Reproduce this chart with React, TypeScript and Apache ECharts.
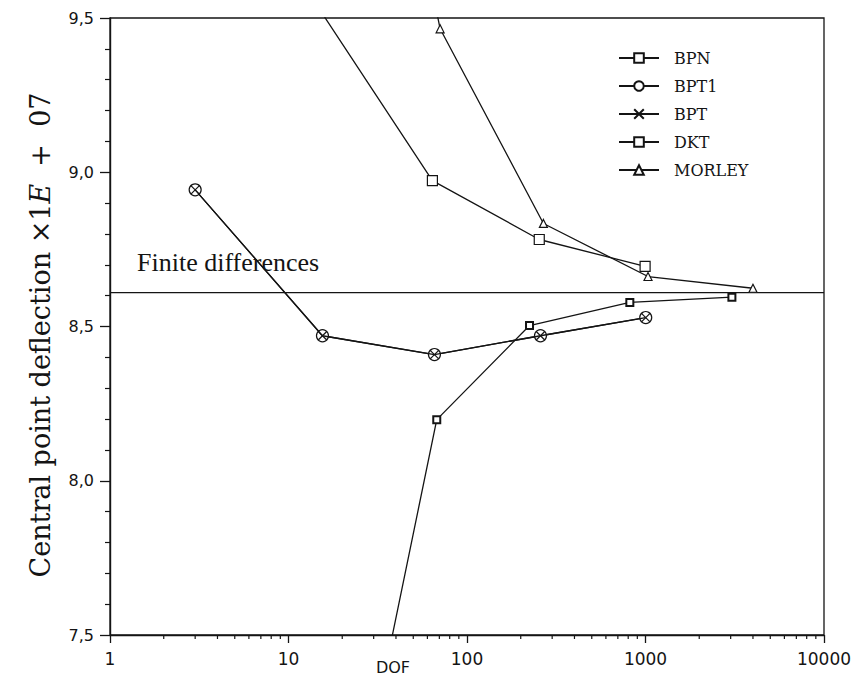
import React, { useEffect, useRef } from "react";
import * as echarts from "echarts";

// ---- data ----
const legendNames = ["BPN", "BPT1", "BPT", "DKT", "MORLEY"];

const dofBPN = [4, 64, 254, 995];
const valBPN = [10.03, 8.973, 8.782, 8.695];

const dofBPT1 = [3, 15.5, 65.7, 258, 1003];
const valBPT1 = [8.943, 8.47, 8.409, 8.47, 8.529];

const dofBPT = [3, 15.5, 65.7, 258, 1003];
const valBPT = [8.943, 8.47, 8.409, 8.47, 8.529];

const dofDKT = [20, 67.7, 224, 817, 3048];
const valDKT = [6.71, 8.198, 8.503, 8.578, 8.595];

const dofMORLEY = [16, 70.7, 268, 1033, 4000];
const valMORLEY = [11.3, 9.465, 8.834, 8.662, 8.624];

const finiteDiffValue = 8.61;
const finiteDiffLabel = "Finite differences";

const xMin = 1;
const xMax = 10000;
const yMin = 7.5;
const yMax = 9.5;
const yInterval = 0.5;

const xMinorTicks = [
  2, 3, 4, 5, 6, 7, 8, 9,
  20, 30, 40, 50, 60, 70, 80, 90,
  200, 300, 400, 500, 600, 700, 800, 900,
  2000, 3000, 4000, 5000, 6000, 7000, 8000, 9000,
];

const INK = "#141414";

function pairs(xs: number[], ys: number[]) {
  return xs.map((x, i) => [x, ys[i]]);
}

export default function App() {
  const ref = useRef<HTMLDivElement>(null);

  useEffect(() => {
    document.body.style.margin = "0";
    document.body.style.overflow = "hidden";
    const chart = echarts.init(ref.current!, null, { renderer: "svg" });

    const markerStyle = { color: "#fff", borderColor: INK, borderWidth: 1.2 };
    const lineStyle = { color: INK, width: 1.3 };

    const mkSeries = (name: string, data: number[][], symbol: string, size: number, extra: any = {}) => ({
      name,
      type: "line",
      data,
      symbol,
      symbolSize: size,
      showAllSymbol: true,
      clip: true,
      itemStyle: { ...markerStyle, ...(extra.itemStyle || {}) },
      lineStyle,
      emphasis: { disabled: true },
      z: extra.z || 3,
    });

    const option: any = {
      animation: false,
      backgroundColor: "#fff",
      grid: {
        left: 110,
        right: 35,
        top: 18,
        bottom: 40,
        show: true,
        borderColor: INK,
        borderWidth: 1.3,
        containLabel: false,
      },
      legend: {
        data: legendNames,
        orient: "vertical",
        left: 613,
        top: 45,
        itemWidth: 40,
        itemHeight: 12,
        itemGap: 12,
        selectedMode: false,
        textStyle: {
          fontFamily: "DejaVu Serif",
          fontSize: 16,
          color: INK,
          lineHeight: 16,
          padding: [0, 0, 0, 10],
        },
      },
      xAxis: {
        type: "log",
        logBase: 10,
        min: xMin,
        max: xMax,
        axisLine: { show: true, lineStyle: { color: INK, width: 1.4 } },
        axisTick: { show: true, length: 8, lineStyle: { color: INK, width: 1.3 } },
        axisLabel: {
          margin: 15,
          fontFamily: "DejaVu Sans",
          fontSize: 17,
          color: INK,
          formatter: (v: number) => String(Math.round(v)),
        },
        splitLine: { show: false },
      },
      yAxis: {
        type: "value",
        min: yMin,
        max: yMax,
        interval: yInterval,
        axisLine: { show: true, lineStyle: { color: INK, width: 1.4 } },
        axisTick: { show: true, length: 10, lineStyle: { color: INK, width: 1.3 } },
        minorTick: { show: true, splitNumber: 5, length: 5, lineStyle: { color: INK, width: 1.2 } },
        axisLabel: {
          margin: 16,
          fontFamily: "DejaVu Sans",
          fontSize: 16,
          color: INK,
          formatter: (v: number) => v.toFixed(1).replace(".", ","),
        },
        splitLine: { show: false },
        minorSplitLine: { show: false },
      },
      series: [
        {
          name: finiteDiffLabel,
          type: "line",
          data: [
            [xMin, finiteDiffValue],
            [xMax, finiteDiffValue],
          ],
          symbol: "none",
          lineStyle: { color: INK, width: 1.3 },
          emphasis: { disabled: true },
          z: 2,
        },
        {
          name: "xMinorTicks",
          type: "custom",
          data: xMinorTicks.map((v) => [v, yMin]),
          silent: true,
          clip: false,
          renderItem: (params: any, api: any) => {
            const p = api.coord([api.value(0), api.value(1)]);
            return {
              type: "line",
              shape: { x1: p[0], y1: p[1], x2: p[0], y2: p[1] + 4 },
              style: { stroke: INK, lineWidth: 1.2 },
            };
          },
          z: 4,
        },
        mkSeries("BPN", pairs(dofBPN, valBPN), "rect", 10),
        mkSeries("BPT1", pairs(dofBPT1, valBPT1), "circle", 12),
        mkSeries("BPT", pairs(dofBPT, valBPT), "path://M0,0L10,10M10,0L0,10", 8, { z: 4 }),
        mkSeries("DKT", pairs(dofDKT, valDKT), "rect", 7, { itemStyle: { borderWidth: 2 } }),
        mkSeries("MORLEY", pairs(dofMORLEY, valMORLEY), "triangle", 8),
      ],
      graphic: [
        {
          type: "text",
          x: 137,
          y: 262,
          style: {
            text: finiteDiffLabel,
            fontFamily: "Liberation Serif",
            fontSize: 26,
            fill: INK,
            textAlign: "left",
            textVerticalAlign: "middle",
          },
          z: 10,
        },
        {
          type: "text",
          x: 393,
          y: 675,
          style: {
            text: "DOF",
            fontFamily: "DejaVu Sans",
            fontSize: 16,
            fill: INK,
            textAlign: "center",
            textVerticalAlign: "bottom",
          },
        },
        {
          type: "text",
          x: 40,
          y: 335,
          rotation: Math.PI / 2,
          style: {
            text: "{a|Central point deflection ×1}{b|E}{a|  +  07}",
            textAlign: "center",
            textVerticalAlign: "middle",
            fill: INK,
            rich: {
              a: { fontFamily: "DejaVu Serif", fontSize: 27, fill: INK },
              b: { fontFamily: "DejaVu Serif", fontSize: 27, fontStyle: "italic", fill: INK },
            },
          },
        },
      ],
    };

    chart.setOption(option);
    return () => chart.dispose();
  }, []);

  return <div ref={ref} style={{ width: 859, height: 675 }} />;
}
